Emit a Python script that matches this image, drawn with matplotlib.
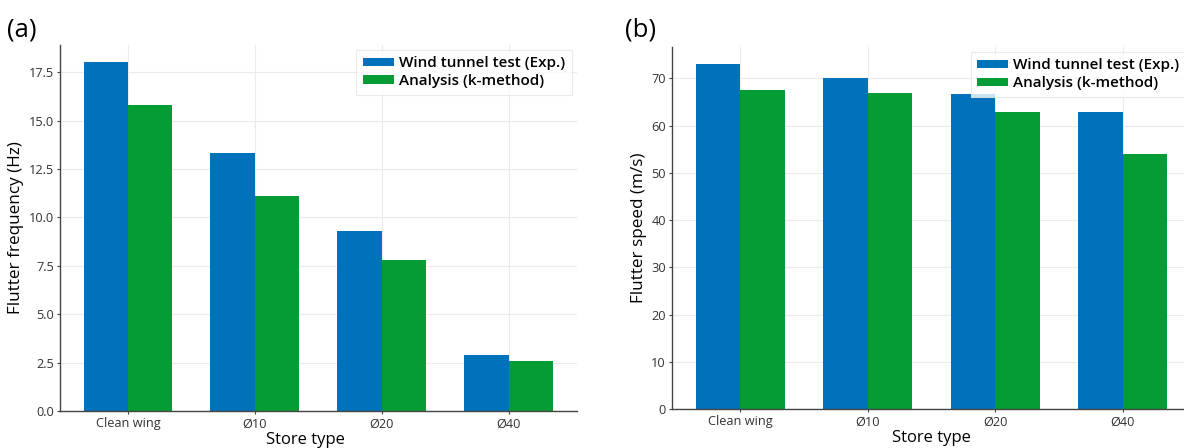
import matplotlib
matplotlib.use("Agg")
import matplotlib.pyplot as plt
import numpy as np

plt.rcParams['font.family'] = ['Open Sans', 'DejaVu Sans']

store_types = ["Clean wing", "Ø10", "Ø20", "Ø40"]
series_names = ["Wind tunnel test (Exp.)", "Analysis (k-method)"]

freq_exp = [18.0, 13.3, 9.3, 2.9]
freq_kmethod = [15.8, 11.1, 7.8, 2.6]

speed_exp = [73.0, 70.0, 66.7, 63.0]
speed_kmethod = [67.6, 67.0, 63.0, 54.0]

blue = "#0072BB"
green = "#059B35"
width = 0.35


def draw_panel(ax, exp, ana, ylabel, yticks, tickfmt, xlabel_x=0.5):
    x = np.arange(len(store_types))
    ax.bar(x - width / 2, exp, width, color=blue, label=series_names[0], zorder=2)
    ax.bar(x + width / 2, ana, width, color=green, label=series_names[1], zorder=2)
    ax.set_xticks(x)
    ax.set_xticklabels(store_types, fontsize=9.2)
    ax.set_yticks(yticks)
    ax.set_yticklabels([tickfmt.format(v) for v in yticks], fontsize=9.2)
    ax.set_xlabel("Store type", fontsize=12)
    ax.xaxis.set_label_coords(xlabel_x, -0.058, transform=ax.transAxes)
    ax.xaxis.label.set_va("top")
    ax.set_ylabel(ylabel, fontsize=12.3, labelpad=3)
    ax.grid(True, color="#ebebeb", linewidth=0.8, zorder=0)
    ax.set_axisbelow(True)
    for s in ("top", "right"):
        ax.spines[s].set_visible(False)
    for s in ("left", "bottom"):
        ax.spines[s].set_color("#444444")
        ax.spines[s].set_linewidth(1.0)
    ax.tick_params(length=2.5, width=0.8, color="#444444", pad=2, labelcolor="#333333")
    leg = ax.legend(loc="upper right", fontsize=11, frameon=True, fancybox=False,
                    borderaxespad=0.3, handlelength=2.0, handleheight=0.5,
                    handletextpad=0.35, labelspacing=0.25, borderpad=0.45)
    leg.get_frame().set_edgecolor("#e6e6e6")
    leg.get_frame().set_linewidth(0.8)
    for t in leg.get_texts():
        t.set_fontweight("semibold")


fig = plt.figure(figsize=(11.84, 4.48), dpi=100)
ax1 = fig.add_axes([0.0507, 0.0826, 0.4363, 0.817])
ax2 = fig.add_axes([0.5676, 0.0870, 0.4383, 0.808])

draw_panel(ax1, freq_exp, freq_kmethod, "Flutter frequency (Hz)",
           [0.0, 2.5, 5.0, 7.5, 10.0, 12.5, 15.0, 17.5], "{:.1f}", xlabel_x=0.476)
draw_panel(ax2, speed_exp, speed_kmethod, "Flutter speed (m/s)",
           [0, 10, 20, 30, 40, 50, 60, 70], "{:d}")

fig.text(0.006, 0.918, "(a)", fontsize=18.5)
fig.text(0.528, 0.918, "(b)", fontsize=18.5)

fig.savefig("out.png", dpi=100, facecolor="white")
